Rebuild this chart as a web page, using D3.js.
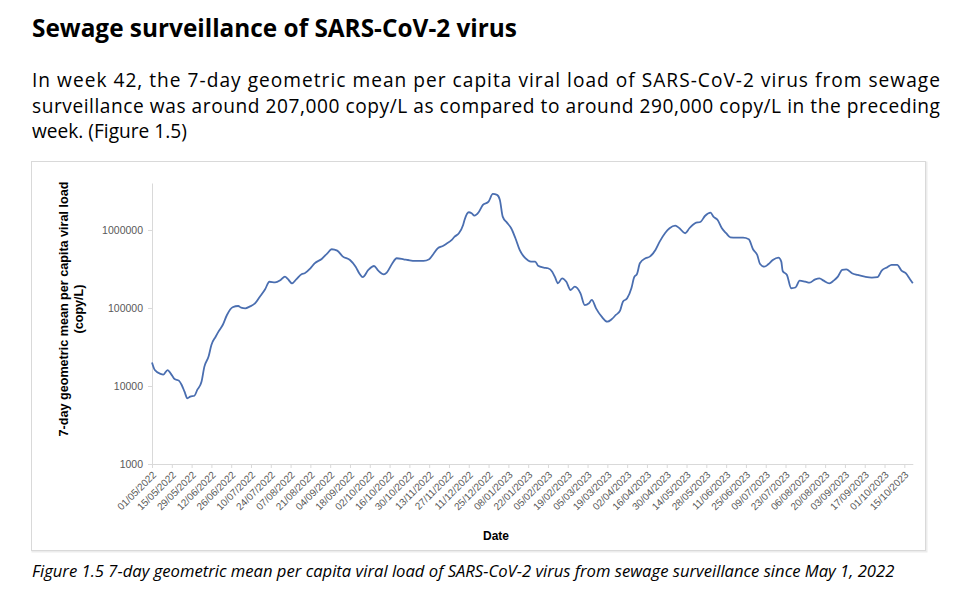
<!DOCTYPE html>
<html>
<head>
<meta charset="utf-8">
<script src="https://cdn.jsdelivr.net/npm/d3@7/dist/d3.min.js"></script>
<style>
  body { margin: 0; background: #fff; }
  svg { display: block; }
</style>
</head>
<body>
<svg width="972" height="597"></svg>
<script>
/*
DATI
*/
var dates = ["2022-05-01","2022-05-03","2022-05-07","2022-05-09","2022-05-12","2022-05-15","2022-05-17","2022-05-20","2022-05-22","2022-05-24",
  "2022-05-26","2022-05-28","2022-05-31","2022-06-02","2022-06-05","2022-06-07","2022-06-10","2022-06-12","2022-06-15","2022-06-17",
  "2022-06-20","2022-06-23","2022-06-27","2022-07-01","2022-07-03","2022-07-06","2022-07-09","2022-07-13","2022-07-16","2022-07-20",
  "2022-07-23","2022-07-27","2022-07-31","2022-08-03","2022-08-05","2022-08-08","2022-08-11","2022-08-15","2022-08-17","2022-08-21",
  "2022-08-24","2022-08-29","2022-09-02","2022-09-05","2022-09-09","2022-09-13","2022-09-18","2022-09-22","2022-09-25","2022-09-27",
  "2022-10-01","2022-10-05","2022-10-08","2022-10-12","2022-10-14","2022-10-18","2022-10-21","2022-10-26","2022-10-29","2022-11-03",
  "2022-11-09","2022-11-13","2022-11-16","2022-11-19","2022-11-23","2022-11-25","2022-11-29","2022-12-01","2022-12-04","2022-12-07",
  "2022-12-08","2022-12-11","2022-12-13","2022-12-15","2022-12-18","2022-12-21","2022-12-25","2022-12-28","2022-12-31","2023-01-02",
  "2023-01-04","2023-01-07","2023-01-10","2023-01-13","2023-01-16","2023-01-20","2023-01-24","2023-01-27","2023-01-29","2023-02-02",
  "2023-02-05","2023-02-08","2023-02-10","2023-02-12","2023-02-15","2023-02-18","2023-02-21","2023-02-24","2023-02-28","2023-03-03",
  "2023-03-06","2023-03-08","2023-03-11","2023-03-15","2023-03-19","2023-03-22","2023-03-25","2023-03-28","2023-03-30","2023-04-02",
  "2023-04-05","2023-04-07","2023-04-09","2023-04-11","2023-04-15","2023-04-18","2023-04-22","2023-04-25","2023-04-29","2023-05-02",
  "2023-05-06","2023-05-09","2023-05-13","2023-05-16","2023-05-20","2023-05-24","2023-05-27","2023-05-31","2023-06-02","2023-06-05",
  "2023-06-08","2023-06-11","2023-06-14","2023-06-18","2023-06-23","2023-06-27","2023-06-30","2023-07-03","2023-07-05","2023-07-08",
  "2023-07-11","2023-07-14","2023-07-18","2023-07-20","2023-07-21","2023-07-24","2023-07-27","2023-07-30","2023-08-02","2023-08-06",
  "2023-08-09","2023-08-13","2023-08-16","2023-08-19","2023-08-23","2023-08-26","2023-08-29","2023-09-01","2023-09-04","2023-09-08",
  "2023-09-12","2023-09-17","2023-09-22","2023-09-26","2023-09-29","2023-10-03","2023-10-06","2023-10-10","2023-10-13","2023-10-16",
  "2023-10-19","2023-10-21"];

var viralLoad = [20000,16000,14300,14000,16000,13800,12300,11700,10300,8450,
  6950,7300,7500,8900,11300,17600,23800,33600,42800,49700,
  60500,81300,102000,106000,101000,99000,104000,115000,137000,174000,
  217000,213000,229000,252000,236000,207000,233000,273000,279000,323000,
  374000,425000,502000,566000,543000,455000,412000,338000,270000,248000,
  307000,345000,301000,270000,284000,374000,434000,421000,412000,401000,
  401000,421000,492000,582000,629000,662000,745000,820000,908000,1158000,
  1343000,1687000,1637000,1525000,1687000,2094000,2307000,2896000,2813000,2426000,
  1483000,1242000,1052000,783000,555000,434000,393000,393000,348000,329000,
  323000,292000,248000,207000,240000,217000,170000,188000,154000,109000,
  115000,127000,99000,77300,66700,71600,81300,92300,120500,133000,
  179000,248000,273000,374000,434000,455000,555000,708000,922000,1052000,
  1135000,1052000,908000,1052000,1219000,1277000,1510000,1667000,1483000,1343000,
  1052000,908000,805000,796000,796000,760000,566000,478000,366000,338000,
  366000,412000,442000,393000,298000,265000,179000,183000,224000,217000,
  211000,233000,240000,224000,207000,224000,252000,307000,313000,279000,
  265000,252000,245000,248000,301000,333000,356000,356000,301000,279000,
  233000,207000];

var yTicks = [1000, 10000, 100000, 1000000];
var xFirstTick = "2022-05-01";
var xLastTick = "2023-10-15";
var xTickStepDays = 14;

var titolo = "Sewage surveillance of SARS-CoV-2 virus";
var paragrafo = [
  "In week 42, the 7-day geometric mean per capita viral load of SARS-CoV-2 virus from sewage",
  "surveillance was around 207,000 copy/L as compared to around 290,000 copy/L in the preceding",
  "week. (Figure 1.5)"
];
var didascalia = "Figure 1.5 7-day geometric mean per capita viral load of SARS-CoV-2 virus from sewage surveillance since May 1, 2022";

/*
SETUP
*/
var parseData = d3.timeParse("%Y-%m-%d");
var svg = d3.select("svg");
var fontTesto = "'Open Sans', 'Noto Sans', sans-serif";
var fontGrafico = "'Liberation Sans', Arial, sans-serif";

//adatta la dimensione del font ad una larghezza data
function adatta(sel, w) {
  var fs = parseFloat(sel.attr("font-size"));
  var l = sel.node().getComputedTextLength();
  sel.attr("font-size", (fs * w / l).toFixed(2));
}

//titolo
var t = svg.append("text")
  .attr("x", 32).attr("y", 37)
  .attr("font-family", fontTesto)
  .attr("font-weight", "bold")
  .attr("font-size", 22)
  .attr("fill", "#000")
  .text(titolo);
adatta(t, 485);

//paragrafo giustificato
var ultima = svg.append("text")
  .attr("x", 32).attr("y", 138)
  .attr("font-family", fontTesto)
  .attr("font-size", 17)
  .attr("fill", "#000")
  .text(paragrafo[2]);
adatta(ultima, 155);
var fsPar = ultima.attr("font-size");
[87, 113].forEach(function(yy, i) {
  svg.append("text")
    .attr("x", 32).attr("y", yy)
    .attr("font-family", fontTesto)
    .attr("font-size", fsPar)
    .attr("fill", "#000")
    .attr("textLength", 908)
    .attr("lengthAdjust", "spacing")
    .text(paragrafo[i]);
});

//riquadro del grafico
svg.append("rect")
  .attr("x", 32.5).attr("y", 162.5)
  .attr("width", 894).attr("height", 389)
  .attr("fill", "none")
  .attr("stroke", "#ececec")
  .attr("stroke-width", 2);
svg.append("rect")
  .attr("x", 31.5).attr("y", 161.5)
  .attr("width", 894).attr("height", 389)
  .attr("fill", "#fff")
  .attr("stroke", "#d9d9d9");

//didascalia
var c = svg.append("text")
  .attr("x", 32).attr("y", 577)
  .attr("font-family", fontTesto)
  .attr("font-style", "italic")
  .attr("font-size", 15)
  .attr("fill", "#000")
  .text(didascalia);
adatta(c, 863);

/*
SCALE E ASSI
*/
var x = d3.scaleTime()
  .domain([parseData("2022-05-01"), parseData("2023-10-21")])
  .range([152, 912.8]);
var y = d3.scaleLog()
  .domain([1000, 4000000])
  .range([464, 183]);

var xTickValues = d3.timeDay.range(parseData(xFirstTick), d3.timeDay.offset(parseData(xLastTick), 1), xTickStepDays);

var gx = svg.append("g")
  .attr("transform", "translate(0,464)")
  .call(d3.axisBottom(x)
    .tickValues(xTickValues)
    .tickFormat(d3.timeFormat("%d/%m/%Y"))
    .tickSize(4)
    .tickSizeOuter(0));
gx.selectAll("text")
  .attr("x", 0).attr("y", 0)
  .attr("dy", "0.35em")
  .attr("text-anchor", "end")
  .attr("transform", "translate(2,9) rotate(-45)");

var gy = svg.append("g")
  .attr("transform", "translate(152,0)")
  .call(d3.axisLeft(y)
    .tickValues(yTicks)
    .tickFormat(d3.format("d"))
    .tickSize(4)
    .tickSizeOuter(0)
    .tickPadding(5));

[gx, gy].forEach(function(g) {
  g.select(".domain").attr("stroke", "#d9d9d9");
  g.selectAll(".tick line").attr("stroke", "#d9d9d9");
  g.selectAll("text")
    .attr("fill", "#595959")
    .attr("font-family", fontGrafico);
});
gx.selectAll("text").attr("font-size", 10);
gy.selectAll("text").attr("font-size", 10.5);

//etichette assi
var ly = svg.append("text")
  .attr("transform", "translate(68,309) rotate(-90)")
  .attr("text-anchor", "middle")
  .attr("font-family", fontGrafico)
  .attr("font-weight", "bold")
  .attr("font-size", 12.6)
  .attr("fill", "#000");
ly.append("tspan").attr("x", 0).attr("dy", 0).text("7-day geometric mean per capita viral load");
ly.append("tspan").attr("x", 0).attr("dy", 14.5).text("(copy/L)");

svg.append("text")
  .attr("x", 496).attr("y", 540)
  .attr("text-anchor", "middle")
  .attr("font-family", fontGrafico)
  .attr("font-weight", "bold")
  .attr("font-size", 12)
  .attr("fill", "#000")
  .text("Date");

/*
LINEA
*/
var serie = dates.map(function(d, i) {
  return { data: parseData(d), valore: viralLoad[i] };
});

svg.append("path")
  .datum(serie)
  .attr("fill", "none")
  .attr("stroke", "#4a6eb0")
  .attr("stroke-width", 1.8)
  .attr("stroke-linejoin", "round")
  .attr("d", d3.line()
    .curve(d3.curveMonotoneX)
    .x(function(d) { return x(d.data); })
    .y(function(d) { return y(d.valore); }));
</script>
</body>
</html>
